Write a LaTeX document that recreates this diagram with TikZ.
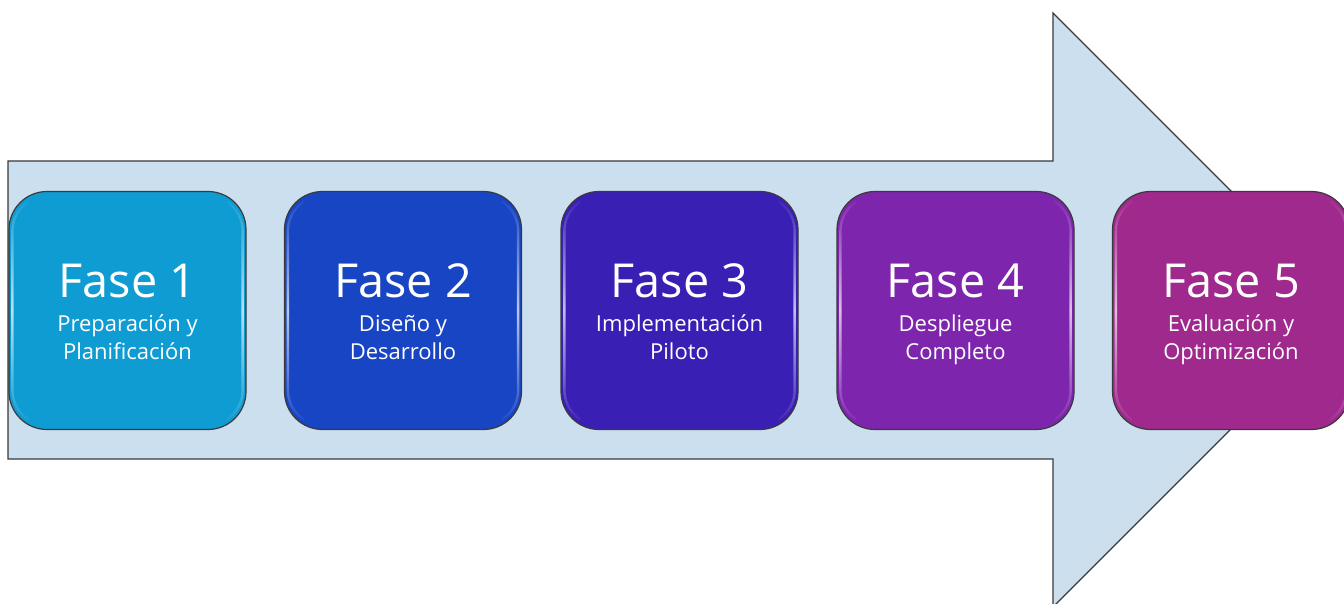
\documentclass[tikz,border=0pt]{standalone}
\usepackage{fontspec}
\setmainfont{Open Sans}
\usetikzlibrary{fadings}

\definecolor{arrowfill}{HTML}{CCDFEE}
\definecolor{edgegray}{HTML}{3A3A3A}
\definecolor{faseA}{HTML}{0F9CD3}
\definecolor{faseB}{HTML}{1845C4}
\definecolor{faseC}{HTML}{3A1FB5}
\definecolor{faseD}{HTML}{7E25AD}
\definecolor{faseE}{HTML}{A0298E}

\tikzfading[name=edgeglow, top color=transparent!100, bottom color=transparent!100, middle color=transparent!0]

\tikzset{
  phasebox/.style={draw=edgegray, line width=0.6pt, rounded corners=19pt,
    minimum width=118.5pt, minimum height=119pt, inner sep=0pt},
  phasetitle/.style={text=white, anchor=base, inner sep=0pt,
    font=\fontsize{23.4}{27}\selectfont},
  phasesub/.style={text=white, anchor=base, inner sep=0pt,
    font=\fontsize{11}{13}\selectfont},
  glow/.style={draw=white, line width=1.2pt, opacity=0.7, rounded corners=17.5pt,
    path fading=edgeglow}
}

% one rounded phase tile with its glossy side edges and three lines of text
\newcommand{\phasetile}[6]{%
  \node[phasebox, fill=#3] (p#1) at (#2,310.5) {};
  \begin{scope}
    \clip ([xshift=-1pt]p#1.south west) rectangle ([xshift=10pt]p#1.north west);
    \draw[glow] ([shift={(2pt,2.5pt)}]p#1.south west) rectangle ([shift={(-2pt,-2.5pt)}]p#1.north east);
  \end{scope}
  \begin{scope}
    \clip ([xshift=-10pt]p#1.south east) rectangle ([xshift=1pt]p#1.north east);
    \draw[glow] ([shift={(2pt,2.5pt)}]p#1.south west) rectangle ([shift={(-2pt,-2.5pt)}]p#1.north east);
  \end{scope}
  \node[phasetitle] (t#1) at (#2,297.5) {#4};
  \node[phasesub] (a#1) at (#2,331.5) {#5};
  \node[phasesub] (b#1) at (#2,359) {#6};
}

\begin{document}
\begin{tikzpicture}[x=0.5pt, y=-0.5pt]
  \useasboundingbox (0,0) rectangle (1344,604);
  \clip (0,0) rectangle (1344,604);

  % the large block arrow behind the tiles
  \draw[fill=arrowfill, draw=edgegray, line width=0.6pt, line join=miter]
    (8,161) -- (1053,161) -- (1053,13) -- (1350,310) -- (1053,607)
    -- (1053,459) -- (8,459) -- cycle;

  \phasetile{1}{127.5}{faseA}{Fase 1}{Preparación y}{Planificación}
  \phasetile{2}{403}{faseB}{Fase 2}{Diseño y}{Desarrollo}
  \phasetile{3}{679.5}{faseC}{Fase 3}{Implementación}{Piloto}
  \phasetile{4}{955.5}{faseD}{Fase 4}{Despliegue}{Completo}
  \phasetile{5}{1231}{faseE}{Fase 5}{Evaluación y}{Optimización}
\end{tikzpicture}
\end{document}
